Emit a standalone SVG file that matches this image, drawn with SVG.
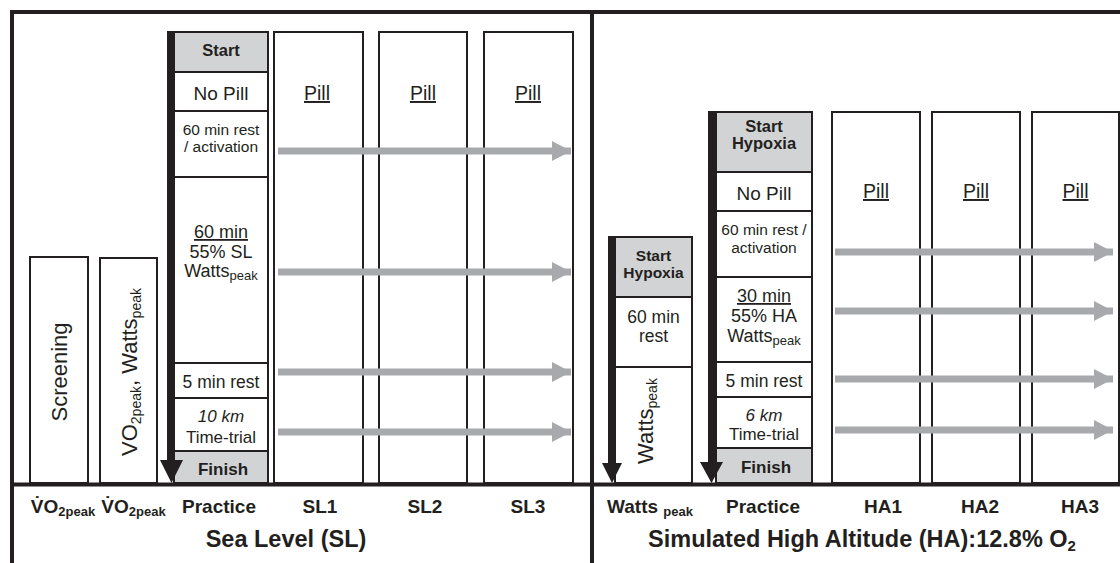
<svg xmlns="http://www.w3.org/2000/svg" width="1120" height="563" viewBox="0 0 1120 563">
<defs>
<style>
text{font-family:"Liberation Sans",Arial,sans-serif;fill:#231f20;text-anchor:middle}
.box{fill:#fff;stroke:#231f20;stroke-width:2}
.g{fill:#d1d3d4;stroke:#231f20;stroke-width:2}
.frame{stroke:#231f20;stroke-width:4;fill:none}
.b{font-weight:bold}
.u{text-decoration:underline}
.ga{stroke:#a7a9ac;stroke-width:7;fill:none}
.bar{fill:#231f20}
</style>
<marker id="gh" markerUnits="userSpaceOnUse" markerWidth="20" markerHeight="20" refX="19" refY="10" orient="auto" viewBox="0 0 20 20"><path d="M0,0 L19,10 L0,20 Z" fill="#a7a9ac"/></marker>
</defs>
<g id="frame">
<line class="frame" x1="10" y1="12" x2="1120" y2="12"/>
<line class="frame" x1="12" y1="10" x2="12" y2="563"/>
<line class="frame" x1="592" y1="10" x2="592" y2="563"/>
<line class="frame" x1="10" y1="484.5" x2="1120" y2="484.5"/>
</g>
<g id="screening">
<rect class="box" x="30" y="257" width="58" height="226"/>
<text transform="translate(67,372) rotate(-90)" font-size="22">Screening</text>
</g>
<g id="vo2test">
<rect class="box" x="100" y="258" width="57" height="225"/>
<text transform="translate(137,372) rotate(-90)" font-size="22">VO<tspan font-size="14" dy="4">2peak</tspan><tspan dy="-4">, Watts</tspan><tspan font-size="14" dy="4">peak</tspan></text>
</g>
<g id="sl-practice">
<rect class="g" x="174" y="32" width="94" height="40"/>
<text class="b" x="221" y="56" font-size="16.5">Start</text>
<rect class="box" x="174" y="72" width="94" height="39"/>
<text x="221" y="100" font-size="19">No Pill</text>
<rect class="box" x="174" y="111" width="94" height="66"/>
<text x="221" y="135" font-size="15.5">60 min rest</text>
<text x="221" y="152" font-size="15.5">/ activation</text>
<rect class="box" x="174" y="177" width="94" height="186"/>
<text class="u" x="221" y="238" font-size="18">60 min</text>
<text x="221" y="258" font-size="18">55% SL</text>
<text x="221" y="277" font-size="18">Watts<tspan font-size="13" dy="3">peak</tspan></text>
<rect class="box" x="174" y="363" width="94" height="35"/>
<text x="221" y="388" font-size="17.5">5 min rest</text>
<rect class="box" x="174" y="398" width="94" height="53"/>
<text x="221" y="422" font-size="17" font-style="italic">10 km</text>
<text x="221" y="443" font-size="17">Time-trial</text>
<rect class="g" x="174" y="451" width="94" height="32"/>
<text class="b" x="223" y="475" font-size="17">Finish</text>
<rect class="bar" x="167" y="31" width="7" height="431"/>
<path class="bar" d="M160,460 L183,460 L171.5,483 Z"/>
</g>
<g id="sl1">
<rect class="box" x="274" y="32" width="89" height="451"/>
<text class="u" x="317" y="100" font-size="19.5">Pill</text>
</g>
<g id="sl2">
<rect class="box" x="379" y="32" width="88" height="451"/>
<text class="u" x="423" y="100" font-size="19.5">Pill</text>
</g>
<g id="sl3">
<rect class="box" x="484" y="32" width="89" height="451"/>
<text class="u" x="528" y="100" font-size="19.5">Pill</text>
</g>
<g id="ha-pre">
<rect class="g" x="615" y="237" width="77" height="60"/>
<text class="b" x="653.5" y="261" font-size="15.5">Start</text>
<text class="b" x="653.5" y="278" font-size="15.5">Hypoxia</text>
<rect class="box" x="615" y="297" width="77" height="70"/>
<text x="653.5" y="323" font-size="17.5">60 min</text>
<text x="653.5" y="342" font-size="17.5">rest</text>
<rect class="box" x="615" y="367" width="77" height="116"/>
<text transform="translate(653,421) rotate(-90)" font-size="22">Watts<tspan font-size="14" dy="4">peak</tspan></text>
<rect class="bar" x="608" y="236" width="7" height="229"/>
<path class="bar" d="M602,463 L622,463 L612,483 Z"/>
</g>
<g id="ha-practice">
<rect class="g" x="716" y="112" width="96" height="60"/>
<text class="b" x="764" y="132" font-size="16.5">Start</text>
<text class="b" x="764" y="149" font-size="16.5">Hypoxia</text>
<rect class="box" x="716" y="172" width="96" height="39"/>
<text x="764" y="200" font-size="19">No Pill</text>
<rect class="box" x="716" y="211" width="96" height="66"/>
<text x="764" y="235" font-size="15.5">60 min rest /</text>
<text x="764" y="253" font-size="15.5">activation</text>
<rect class="box" x="716" y="277" width="96" height="85"/>
<text class="u" x="764" y="302" font-size="18">30 min</text>
<text x="764" y="322" font-size="18">55% HA</text>
<text x="764" y="342" font-size="18">Watts<tspan font-size="13" dy="3">peak</tspan></text>
<rect class="box" x="716" y="362" width="96" height="35"/>
<text x="764" y="387" font-size="17.5">5 min rest</text>
<rect class="box" x="716" y="397" width="96" height="51"/>
<text x="764" y="421" font-size="17" font-style="italic">6 km</text>
<text x="764" y="440" font-size="17">Time-trial</text>
<rect class="g" x="716" y="448" width="96" height="35"/>
<text class="b" x="766" y="473" font-size="17">Finish</text>
<rect class="bar" x="708" y="111" width="8" height="353"/>
<path class="bar" d="M700,462 L723,462 L711.5,483 Z"/>
</g>
<g id="ha1">
<rect class="box" x="832" y="112" width="88" height="371"/>
<text class="u" x="876" y="198" font-size="19.5">Pill</text>
</g>
<g id="ha2">
<rect class="box" x="932" y="112" width="88" height="371"/>
<text class="u" x="976" y="198" font-size="19.5">Pill</text>
</g>
<g id="ha3">
<rect class="box" x="1032" y="112" width="87" height="371"/>
<text class="u" x="1075.5" y="198" font-size="19.5">Pill</text>
</g>
<g id="connectors">
<line class="ga" x1="278" y1="151" x2="571" y2="151" marker-end="url(#gh)"/>
<line class="ga" x1="278" y1="272" x2="571" y2="272" marker-end="url(#gh)"/>
<line class="ga" x1="278" y1="372" x2="571" y2="372" marker-end="url(#gh)"/>
<line class="ga" x1="278" y1="432" x2="571" y2="432" marker-end="url(#gh)"/>
<line class="ga" x1="835" y1="252" x2="1113" y2="252" marker-end="url(#gh)"/>
<line class="ga" x1="835" y1="311" x2="1113" y2="311" marker-end="url(#gh)"/>
<line class="ga" x1="835" y1="379" x2="1113" y2="379" marker-end="url(#gh)"/>
<line class="ga" x1="835" y1="430" x2="1113" y2="430" marker-end="url(#gh)"/>
</g>
<g id="labels">
<text class="b" x="63" y="513" font-size="19">V̇O<tspan font-size="13" dy="3">2peak</tspan></text>
<text class="b" x="133.5" y="513" font-size="19">V̇O<tspan font-size="13" dy="3">2peak</tspan></text>
<text class="b" x="219" y="513" font-size="19">Practice</text>
<text class="b" x="320" y="513" font-size="19">SL1</text>
<text class="b" x="425" y="513" font-size="19">SL2</text>
<text class="b" x="528" y="513" font-size="19">SL3</text>
<text class="b" x="286" y="547" font-size="23.5">Sea Level (SL)</text>
<text class="b" x="650" y="513" font-size="19">Watts <tspan font-size="13" dy="3">peak</tspan></text>
<text class="b" x="763" y="513" font-size="19">Practice</text>
<text class="b" x="883" y="513" font-size="19">HA1</text>
<text class="b" x="980" y="513" font-size="19">HA2</text>
<text class="b" x="1080" y="513" font-size="19">HA3</text>
<text class="b" x="862" y="547" font-size="23.5">Simulated High Altitude (HA):12.8% O<tspan font-size="15" dy="4">2</tspan></text>
</g>
</svg>
